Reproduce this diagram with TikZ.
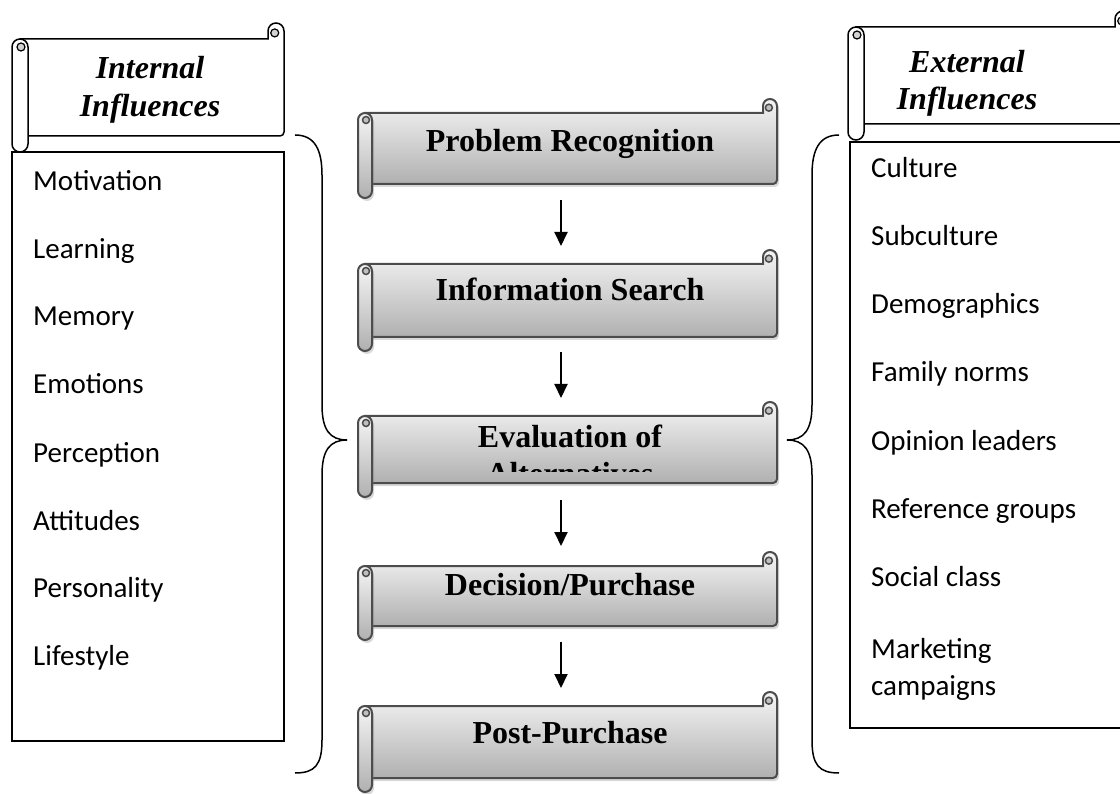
\documentclass[tikz,border=0pt]{standalone}
\usepackage{fontspec}
\setmainfont{Liberation Serif}
\newfontfamily\calibri{Carlito}
\usetikzlibrary{arrows.meta,shadows}

% scroll banner: #1 style, #2 left, #3 top, #4 right, #5 bottom, #6 curl size
\newcommand{\hscroll}[6]{%
  \pgfmathsetmacro{\sh}{#6/2}%
  \pgfmathsetmacro{\sq}{#6/4}%
  \path[#1] (#2+\sh,#3+#6) -- (#4-#6,#3+#6) -- (#4-#6,#3+\sh)
    arc[start angle=180,end angle=0,radius=\sh pt]
    {[rounded corners=4pt] -- (#4,#5-#6) -- (#2+\sh,#5-#6)} -- cycle;
  \path[#1 curl] (#4-#6*0.58,#3+#6*0.62) circle[radius=\sq pt];
  \path[#1,rounded corners=\sh pt] (#2,#3+#6) rectangle (#2+#6,#5);
  \path[#1 curl] (#2+\sh+1,#3+#6+\sh) circle[radius=\sq pt];
}

\begin{document}
\begin{tikzpicture}[x=1pt,y=-1pt,>={Triangle[width=13pt,length=14pt]},
    hdr/.style={draw=black, line width=1.5pt, fill=white},
    hdr curl/.style={draw=black, line width=1.2pt, fill=gray!35},
    stage/.style={draw=gray!60!black, line width=2pt, top color=gray!8, bottom color=gray!62,
      drop shadow={opacity=0.3, shadow xshift=2pt, shadow yshift=-3pt}},
    stage curl/.style={draw=gray!60!black, line width=1.5pt, fill=gray!50},
    stagetext/.style={font=\bfseries\fontsize{32}{37}\selectfont, anchor=base, inner sep=0pt},
    headtext/.style={font=\bfseries\itshape\fontsize{32}{38}\selectfont, anchor=base, inner sep=0pt},
    itemtext/.style={font=\calibri\fontsize{29}{37}\selectfont, anchor=base west, inner sep=0pt},
    listbox/.style={draw=black, line width=1.5pt},
    brace/.style={draw=black, line width=1.5pt}]
    \clip (0,0) rectangle (1120,794);

    % headers
    \hscroll{hdr}{12}{23}{284}{152}{16}
    \node[headtext] (int1) at (150,79) {Internal};
    \node[headtext] (int2) at (150,117) {Influences};
    \hscroll{hdr}{848}{11}{1131}{140}{16}
    \node[headtext] (ext1) at (967,73) {External};
    \node[headtext] (ext2) at (967,110) {Influences};

    % internal list
    \draw[listbox] (12,152) rectangle (284,741);
    \node[itemtext] (motiv) at (33,191) {Motivation};
    \node[itemtext] (learn) at (33,259) {Learning};
    \node[itemtext] (memory) at (33,326) {Memory};
    \node[itemtext] (emot) at (33,394) {Emotions};
    \node[itemtext] (percep) at (33,462) {Perception};
    \node[itemtext] (attit) at (33,530) {Attitudes};
    \node[itemtext] (person) at (33,597) {Personality};
    \node[itemtext] (life) at (33,665) {Lifestyle};

    % external list
    \draw[listbox] (850,142) rectangle (1135,728);
    \node[itemtext] (cult) at (871,178) {Culture};
    \node[itemtext] (subcult) at (871,246) {Subculture};
    \node[itemtext] (demo) at (871,314) {Demographics};
    \node[itemtext] (family) at (871,382) {Family norms};
    \node[itemtext] (opinion) at (871,450) {Opinion leaders};
    \node[itemtext] (refgrp) at (871,518) {Reference groups};
    \node[itemtext] (social) at (871,586) {Social class};
    \node[itemtext] (mark1) at (871,658) {Marketing};
    \node[itemtext] (mark2) at (871,695) {campaigns};

    % braces
    \draw[brace] (295,135) .. controls (315,135) and (322,150) .. (322,175) -- (322,405)
      .. controls (322,430) and (330,440) .. (347,440)
      .. controls (330,440) and (322,450) .. (322,475) -- (322,740)
      .. controls (322,765) and (315,773) .. (295,773);
    \draw[brace] (839,135) .. controls (819,135) and (812,150) .. (812,175) -- (812,405)
      .. controls (812,430) and (804,440) .. (787,440)
      .. controls (804,440) and (812,450) .. (812,475) -- (812,740)
      .. controls (812,765) and (819,773) .. (839,773);

    % stages
    \hscroll{stage}{358}{99}{777}{198}{14}
    \node[stagetext] (prob) at (570,152) {Problem Recognition};
    \hscroll{stage}{358}{250}{777}{351}{14}
    \node[stagetext] (info) at (570,301) {Information Search};
    \hscroll{stage}{358}{402}{777}{497}{14}
    \begin{scope}
      \clip (372,416) rectangle (777,471);
      \node[stagetext] (eval) at (570,447) {Evaluation of};
      \node[stagetext] (evalb) at (570,484) {Alternatives};
    \end{scope}
    \hscroll{stage}{358}{552}{777}{640}{14}
    \node[stagetext] (decis) at (570,595) {Decision/Purchase};
    \hscroll{stage}{358}{692}{777}{792}{14}
    \node[stagetext] (post) at (570,743) {Post-Purchase};

    % flow arrows
    \coordinate (a1) at (561,200); \coordinate (b1) at (561,246);
    \coordinate (a2) at (561,352); \coordinate (b2) at (561,398);
    \coordinate (a3) at (561,500); \coordinate (b3) at (561,546);
    \coordinate (a4) at (561,642); \coordinate (b4) at (561,688);
    \draw[->, line width=2pt] (a1) -- (b1);
    \draw[->, line width=2pt] (a2) -- (b2);
    \draw[->, line width=2pt] (a3) -- (b3);
    \draw[->, line width=2pt] (a4) -- (b4);
\end{tikzpicture}
\end{document}
